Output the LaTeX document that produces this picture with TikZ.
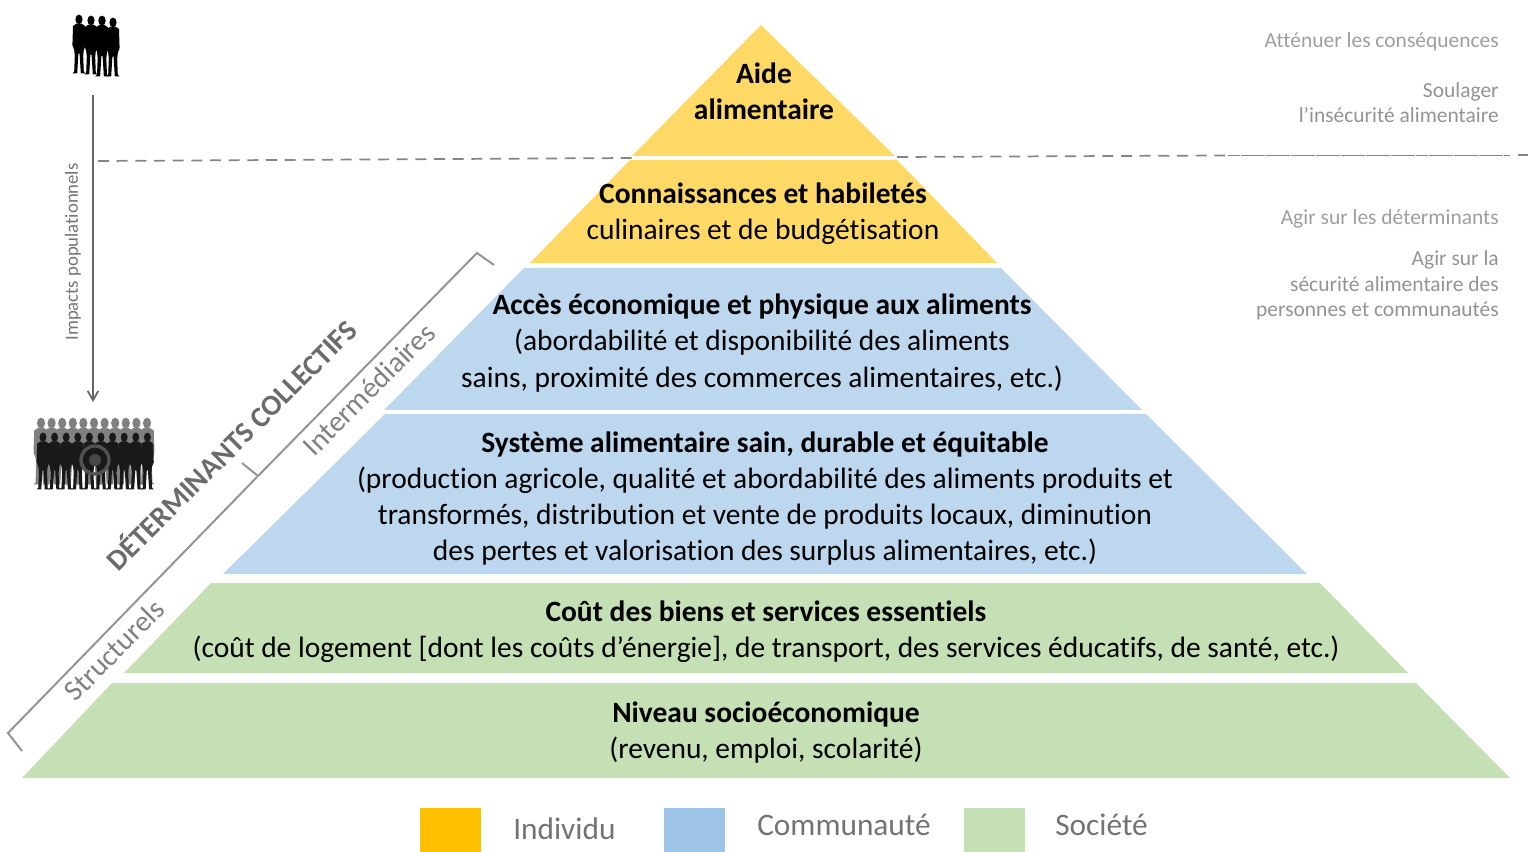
\documentclass[tikz,border=0pt]{standalone}
\usepackage{fontspec}
\setmainfont{Carlito}[Ligatures=NoCommon]
\usetikzlibrary{arrows.meta}
\definecolor{yel}{HTML}{FFD966}
\definecolor{blu}{HTML}{BDD7EE}
\definecolor{grn}{HTML}{C5E0B4}
\definecolor{amber}{HTML}{FFC000}
\definecolor{midblue}{HTML}{9DC3E6}
\tikzset{
  x=0.75pt,y=-0.75pt,
  tier/.style={inner sep=0,align=center,text=black,font=\fontsize{22.1}{27.2}\selectfont},
  side/.style={inner sep=0,anchor=east,align=right,font=\fontsize{16.1}{19.2}\selectfont,text=gray!85},
  sidelight/.style={inner sep=0,anchor=east,font=\fontsize{16.1}{19.2}\selectfont,text=black!38},
  bracketline/.style={draw=black!42,line width=1.5pt},
  slanted/.style={inner sep=0,rotate=45,text=black!50},
  legendtext/.style={inner sep=0,anchor=west,text=black!55,font=\fontsize{23.5}{26}\selectfont},
  legendbox/.style={inner sep=0,minimum width=45.5pt,minimum height=33pt,anchor=north west},
  sep/.style={draw=black!48,line width=1.3pt,dash pattern=on 8.3pt off 5.7pt},
}
% silhouette: x, top y, height in px, colour
\newcommand{\guy}[4]{%
  \begin{scope}[shift={(#1,#2)},xscale=#3/100,yscale=#3/100]
    \fill[#4] (0,9) ellipse (6 and 8);
    \fill[#4] (-4,16) -- (4,16) -- (10,20) -- (11,52) -- (8,60) -- (7,70) -- (8,96) -- (11,99) -- (3,99) -- (1,66)
      -- (-1,66) -- (-3,99) -- (-11,99) -- (-8,96) -- (-7,70) -- (-8,60) -- (-11,52) -- (-10,20) -- cycle;
  \end{scope}}
\begin{document}
\begin{tikzpicture}
\useasboundingbox (0,0) rectangle (1536,852);
% separator
\coordinate (sepa) at (98,161);
\coordinate (sepb) at (632,158);
\coordinate (sepc) at (897,157);
\coordinate (sepd) at (1225,155.5);
\coordinate (sepe) at (1228,155.5);
\coordinate (sepf) at (1510,155.5);
\coordinate (sepg) at (1518,155);
\coordinate (seph) at (1528,155);
\draw[sep] (sepa) -- (sepb);
\draw[sep] (sepc) -- (sepd);
\draw[sep,dash pattern=on 9pt off 0.4pt] (sepe) -- (sepf);
\draw[sep,dash pattern=] (sepg) -- (seph);
% pyramid
\fill[yel] (761,25) -- (895,156) -- (632,156) -- cycle;
\fill[yel] (630,160) -- (897,160) -- (997,263) -- (530,263) -- cycle;
\fill[blu] (524,268) -- (1001,268) -- (1142,410) -- (384,410) -- cycle;
\fill[blu] (385,414) -- (1146,414) -- (1307,574) -- (223,574) -- cycle;
\fill[grn] (211,583) -- (1320,583) -- (1408,673) -- (124,673) -- cycle;
\fill[grn] (112,683) -- (1416,683) -- (1510,778) -- (22,778) -- cycle;
% pyramid text
\node[tier] (t1) at (764,91.5) {\bfseries Aide\\\bfseries alimentaire};
\node[tier] (t2) at (763,214) {\bfseries Connaissances et habiletés\\culinaires et de budgétisation};
\node[tier] (t3) at (762,343) {\bfseries Accès économique et physique aux aliments\\(abordabilité et disponibilité des aliments\\sains, proximité des commerces alimentaires, etc.)};
\node[tier] (t4) at (765,498.5) {\bfseries Système alimentaire sain, durable et équitable\\(production agricole, qualité et abordabilité des aliments produits et\\transformés, distribution et vente de produits locaux, diminution\\des pertes et valorisation des surplus alimentaires, etc.)};
\node[tier] (t5) at (766,632) {\bfseries Coût des biens et services essentiels\\(coût de logement [dont les coûts d’énergie], de transport, des services éducatifs, de santé, etc.)};
\node[tier] (t6) at (766,732.5) {\bfseries Niveau socioéconomique\\(revenu, emploi, scolarité)};
% right labels
\node[sidelight] (r1) at (1499,42) {Atténuer les conséquences};
\node[side] (r2) at (1499,102.5) {Soulager\\l’insécurité alimentaire};
\node[sidelight] (r3) at (1499,219) {Agir sur les déterminants};
\node[side] (r4) at (1499,285.5) {Agir sur la\\sécurité alimentaire des\\personnes et communautés};
% brackets
\coordinate (ba) at (494,265);
\coordinate (bb) at (477,253);
\coordinate (bc) at (258,476);
\coordinate (bd) at (242,463);
\coordinate (be) at (257,477);
\coordinate (bf) at (8,733);
\coordinate (bg) at (22,751);
\draw[bracketline] (ba) -- (bb) -- (bc) -- (bd);
\draw[bracketline] (be) -- (bf) -- (bg);
\node[slanted,font=\bfseries\fontsize{21.9}{24}\selectfont,text=black!58] (dc) at (230,444) {DÉTERMINANTS COLLECTIFS};
\node[slanted,font=\fontsize{21.9}{24}\selectfont] (im) at (369,389) {Intermédiaires};
\node[slanted,font=\fontsize{21.9}{24}\selectfont] (st) at (114,650) {Structurels};
% small group
\coordinate (topgroup) at (93,95);
\guy{79}{14}{60}{black}
\guy{91}{15}{60}{black}
\guy{102}{15}{62}{black}
\guy{113}{17}{60}{black}
% crowd
\coordinate (crowd) at (93,402);
\foreach \i in {0,...,10} {\pgfmathsetmacro{\xx}{41+\i*10.6}\guy{\xx}{417}{68}{black!50}}
\foreach \i in {0,...,9} {\pgfmathsetmacro{\xx}{43+\i*11.6}\guy{\xx}{432}{58}{black!90}}
\draw[black!68,line width=2.5pt] (95,460) circle (14);
\fill[black!72] (95,460) circle (6);
% arrow
\draw[black!60,line width=1.3pt,-{Straight Barb[length=7pt,width=8pt]}] (topgroup) -- (crowd);
\node[inner sep=0,rotate=90,text=black!55,font=\fontsize{14}{16}\selectfont] (ip) at (73,252) {Impacts populationnels};
% legend
\node[legendbox,fill=amber] (l1) at (420,808) {};
\node[legendbox,fill=midblue] (l2) at (664,808) {};
\node[legendbox,fill=grn] (l3) at (964,808) {};
\node[legendtext] (lt1) at (513,829) {Individu};
\node[legendtext] (lt2) at (757,825) {Communauté};
\node[legendtext] (lt3) at (1055,825) {Société};
\end{tikzpicture}
\end{document}
